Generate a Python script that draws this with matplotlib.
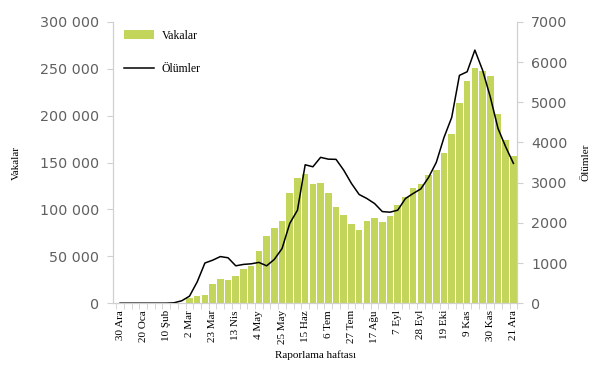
import numpy as np
import matplotlib
matplotlib.use("Agg")
import matplotlib.pyplot as plt
from matplotlib.ticker import FuncFormatter

# haftalik veriler (30 Ara 2019 - 21 Ara 2020)
hafta_etiketleri = ["30 Ara", "20 Oca", "10 Şub", "2 Mar", "23 Mar", "13 Nis", "4 May",
                    "25 May", "15 Haz", "6 Tem", "27 Tem", "17 Ağu", "7 Eyl", "28 Eyl",
                    "19 Eki", "9 Kas", "30 Kas", "21 Ara"]

vakalar = [0, 0, 0, 0, 0, 0, 0, 0, 0,
           5000, 7500, 9000, 20000, 26000, 24500, 29000, 36000, 40000, 56000,
           71500, 80000, 88000, 118000, 134000, 138000, 127000, 128000, 117000,
           102500, 94500, 84000, 78500, 88000, 91000, 87000, 92500, 104500,
           113000, 123000, 127000, 137000, 142000, 160000, 180000, 213500,
           237500, 251000, 248000, 242000, 201500, 174000, 157000]

olumler = [0, 0, 0, 0, 0, 0, 0, 10, 60,
           175, 530, 1000, 1070, 1160, 1130, 930, 965, 980, 1015,
           930, 1090, 1360, 1985, 2315, 3445, 3395, 3630, 3585,
           3580, 3310, 2980, 2705, 2605, 2480, 2280, 2265, 2315,
           2605, 2730, 2845, 3130, 3505, 4125, 4625, 5670,
           5760, 6300, 5800, 5135, 4350, 3890, 3480]

x = np.arange(len(vakalar))
serif = "Liberation Serif"
spine_renk = "#d0d0d0"
yazi_renk = "#606060"

fig = plt.figure(figsize=(6.05, 3.72), dpi=100)
ax = fig.add_axes([0.187, 0.185, 0.668, 0.756])
ax2 = ax.twinx()

ax.bar(x, vakalar, width=0.85, color="#C4D55B", label="Vakalar", zorder=2)
ax2.plot(x, olumler, color="black", lw=1.1, label="Ölümler")

ax.set_xlim(-0.9, 51.5)
ax.set_ylim(0, 300000)
ax2.set_ylim(0, 7000)
ax.set_yticks(np.arange(0, 300001, 50000))
ax2.set_yticks(np.arange(0, 7001, 1000))
ax.yaxis.set_major_formatter(FuncFormatter(lambda v, p: f"{int(v):,}".replace(",", " ")))

ax.set_xticks(x[::3])
ax.set_xticklabels(hafta_etiketleri, rotation=90, fontsize=8, family=serif)
ax.set_xticks(np.arange(-0.5, len(x), 1), minor=True)
ax.tick_params(axis="x", which="major", length=0, pad=5)
ax.tick_params(axis="x", which="minor", length=4, color=spine_renk)

for a in (ax, ax2):
    a.spines["top"].set_visible(False)
    for s in ("left", "right", "bottom"):
        a.spines[s].set_color(spine_renk)
    a.tick_params(axis="y", length=4, color=spine_renk, labelsize=10.3, labelcolor=yazi_renk, pad=6)

ax.set_ylabel("Vakalar", family=serif, fontsize=8, labelpad=14)
ax2.set_ylabel("Ölümler", family=serif, fontsize=8, labelpad=10)
ax.set_xlabel("Raporlama haftası", family=serif, fontsize=8, labelpad=4)

h1, l1 = ax.get_legend_handles_labels()
h2, l2 = ax2.get_legend_handles_labels()
ax.legend(h1 + h2, l1 + l2, loc="upper left", bbox_to_anchor=(0.0, 1.01), frameon=False,
          prop={"family": serif, "size": 8.5}, labelspacing=1.8, handlelength=2.6,
          handletextpad=0.6)

fig.savefig("out.png", dpi=100)
